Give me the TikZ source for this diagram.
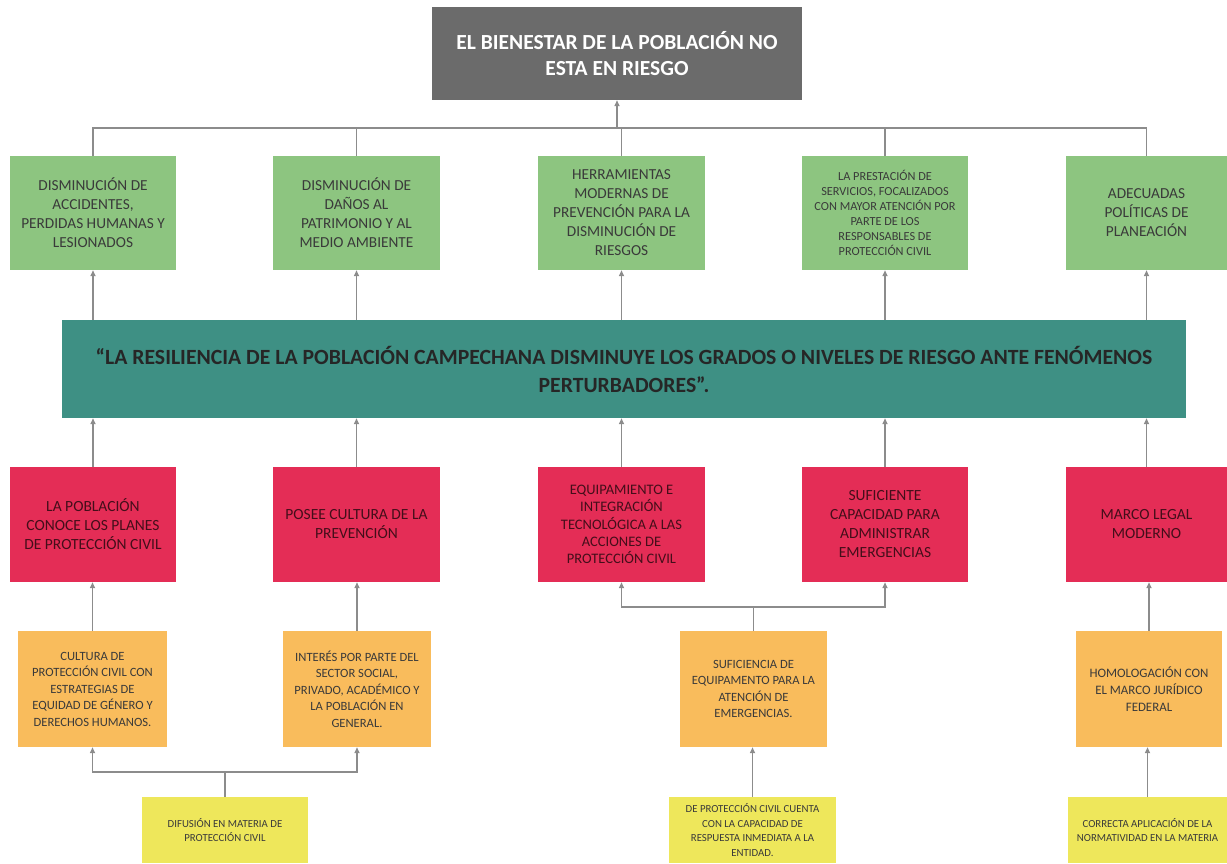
\documentclass[tikz,border=0pt]{standalone}
\usepackage{fontspec}
\setmainfont{Carlito}
\usetikzlibrary{arrows.meta}
\definecolor{cgray}{HTML}{6B6B6B}
\definecolor{cteal}{HTML}{3E9084}
\definecolor{cgreen}{HTML}{8DC580}
\definecolor{cred}{HTML}{E42D56}
\definecolor{corange}{HTML}{F9BC5C}
\definecolor{cyellow}{HTML}{EEE75B}
\definecolor{cline}{HTML}{8C8C8C}
\definecolor{ctip}{HTML}{666666}
\definecolor{ctext}{HTML}{3A3A3A}
\begin{document}
\begin{tikzpicture}[x=1pt,y=-1pt,
  box/.style={rectangle, inner sep=2pt, align=center, text=ctext},
  gbox/.style={box, fill=cgreen, minimum height=114, font=\fontsize{15.3}{19}\selectfont},
  rbox/.style={box, fill=cred, minimum height=115, text=black!70!cred, font=\fontsize{15.5}{19}\selectfont},
  obox/.style={box, fill=corange, minimum height=116, font=\fontsize{12.6}{16.5}\selectfont},
  ybox/.style={box, fill=cyellow, minimum height=66, font=\fontsize{10.8}{14.5}\selectfont},
  conn/.style={draw=cline, line width=1.5pt},
  arr/.style={conn, -{Triangle[length=6pt,width=5pt,fill=ctip]}}
]
\useasboundingbox (0,0) rectangle (1227,863);

% top
\node[box, fill=cgray, minimum width=370, minimum height=93, text=white,
      font=\bfseries\fontsize{21.5}{26}\selectfont] (top) at (617,53.5)
  {EL BIENESTAR DE LA POBLACIÓN NO\\ESTA EN RIESGO};

% green row
\node[gbox, minimum width=166] (g1) at (93,213) {DISMINUCIÓN DE\\ACCIDENTES,\\PERDIDAS HUMANAS Y\\LESIONADOS};
\node[gbox, minimum width=167] (g2) at (356.5,213) {DISMINUCIÓN DE\\DAÑOS AL\\PATRIMONIO Y AL\\MEDIO AMBIENTE};
\node[gbox, minimum width=167] (g3) at (621.5,213) {HERRAMIENTAS\\MODERNAS DE\\PREVENCIÓN PARA LA\\DISMINUCIÓN DE\\RIESGOS};
\node[gbox, minimum width=166, font=\fontsize{12.3}{15}\selectfont] (g4) at (885,213) {LA PRESTACIÓN DE\\SERVICIOS, FOCALIZADOS\\CON MAYOR ATENCIÓN POR\\PARTE DE LOS\\RESPONSABLES DE\\PROTECCIÓN CIVIL};
\node[gbox, minimum width=161] (g5) at (1146.5,213) {ADECUADAS\\POLÍTICAS DE\\PLANEACIÓN};

% teal
\node[box, fill=cteal, minimum width=1124, minimum height=98, text=black!85,
      font=\bfseries\fontsize{21.7}{28}\selectfont] (t) at (624,369)
  {“LA RESILIENCIA DE LA POBLACIÓN CAMPECHANA DISMINUYE LOS GRADOS O NIVELES DE RIESGO ANTE FENÓMENOS\\PERTURBADORES”.};

% red row
\node[rbox, minimum width=166] (r1) at (93,524.5) {LA POBLACIÓN\\CONOCE LOS PLANES\\DE PROTECCIÓN CIVIL};
\node[rbox, minimum width=167] (r2) at (356.5,524.5) {POSEE CULTURA DE LA\\PREVENCIÓN};
\node[rbox, minimum width=167, font=\fontsize{14.5}{17.3}\selectfont] (r3) at (621.5,524.5) {EQUIPAMIENTO E\\INTEGRACIÓN\\TECNOLÓGICA A LAS\\ACCIONES DE\\PROTECCIÓN CIVIL};
\node[rbox, minimum width=166] (r4) at (885,524.5) {SUFICIENTE\\CAPACIDAD PARA\\ADMINISTRAR\\EMERGENCIAS};
\node[rbox, minimum width=161] (r5) at (1146.5,524.5) {MARCO LEGAL\\MODERNO};

% orange row
\node[obox, minimum width=149] (o1) at (92.5,689) {CULTURA DE\\PROTECCIÓN CIVIL CON\\ESTRATEGIAS DE\\EQUIDAD DE GÉNERO Y\\DERECHOS HUMANOS.};
\node[obox, minimum width=148] (o2) at (357,689) {INTERÉS POR PARTE DEL\\SECTOR SOCIAL,\\PRIVADO, ACADÉMICO Y\\LA POBLACIÓN EN\\GENERAL.};
\node[obox, minimum width=147] (o3) at (753.5,689) {SUFICIENCIA DE\\EQUIPAMENTO PARA LA\\ATENCIÓN DE\\EMERGENCIAS.};
\node[obox, minimum width=146, font=\fontsize{12.9}{17}\selectfont] (o4) at (1149,689) {HOMOLOGACIÓN CON\\EL MARCO JURÍDICO\\FEDERAL};

% yellow row
\node[ybox, minimum width=166] (y1) at (225,830) {DIFUSIÓN EN MATERIA DE\\PROTECCIÓN CIVIL};
\node[ybox, minimum width=167] (y2) at (752.5,830) {DE PROTECCIÓN CIVIL CUENTA\\CON LA CAPACIDAD DE\\RESPUESTA INMEDIATA A LA\\ENTIDAD.};
\node[ybox, minimum width=159] (y3) at (1147.5,830) {CORRECTA APLICACIÓN DE LA\\NORMATIVIDAD EN LA MATERIA};

% connectors: green to top
\coordinate (bus) at (617,128);
\draw[conn] (g1.north) |- (g5.north |- bus) -- (g5.north);
\draw[conn] (g2.north) -- (g2.north |- bus);
\draw[conn] (g3.north) -- (g3.north |- bus);
\draw[conn] (g4.north) -- (g4.north |- bus);
\draw[arr] (bus) -- (top.south);

% teal to green
\foreach \g in {g1,g2,g3,g4,g5}
  \draw[arr] (t.north -| \g.south) -- (\g.south);

% red to teal
\foreach \r in {r1,r2,r3,r4,r5}
  \draw[arr] (\r.north) -- (\r.north |- t.south);

% orange to red
\draw[arr] (o1.north) -- (o1.north |- r1.south);
\draw[arr] (o2.north) -- (o2.north |- r2.south);
\draw[arr] (o4.north) -- (o4.north |- r5.south);
\path (o3.north) ++(0,-24) coordinate (j3);
\draw[conn] (o3.north) -- (j3);
\draw[arr] (j3) -| (r3.south);
\draw[arr] (j3) -| (r4.south);

% yellow to orange
\path (y1.north) ++(0,-25) coordinate (j1);
\draw[conn] (y1.north) -- (j1);
\draw[arr] (j1) -| (o1.south);
\draw[arr] (j1) -| (o2.south);
\draw[arr] (y2.north) -- (y2.north |- o3.south);
\draw[arr] (y3.north) -- (y3.north |- o4.south);
\end{tikzpicture}
\end{document}
